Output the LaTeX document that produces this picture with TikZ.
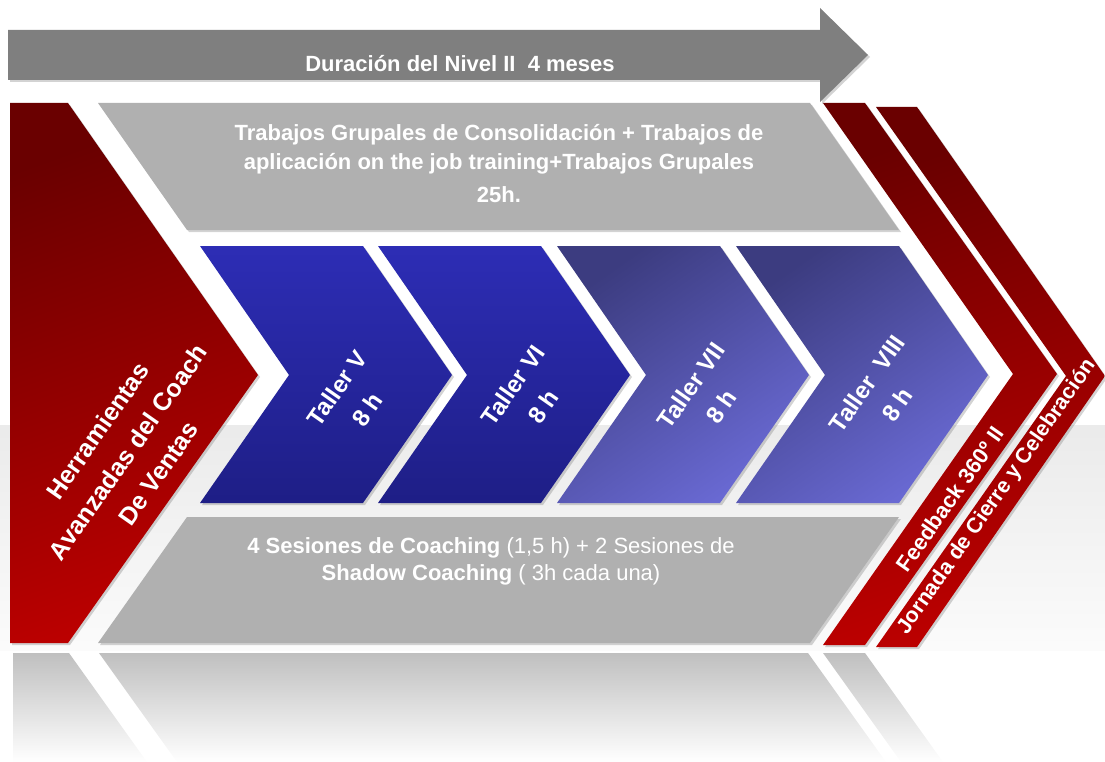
\documentclass[tikz,border=0pt]{standalone}
\usepackage{fontspec}
\setmainfont{Liberation Sans}
\usetikzlibrary{positioning,shadows}

\definecolor{redDark}{HTML}{6A0000}
\definecolor{redMid}{HTML}{A80000}
\definecolor{redLight}{HTML}{BC0000}
\definecolor{bandGray}{HTML}{B0B0B0}
\definecolor{arrowGray}{HTML}{7F7F7F}
\definecolor{blueTop}{HTML}{2D2DB5}
\definecolor{blueBot}{HTML}{1E1E86}
\definecolor{slateTop}{HTML}{3C3C80}
\definecolor{slateBot}{HTML}{6A6AD4}

\begin{document}
\begin{tikzpicture}[x=1pt,y=-1pt,
    shadowed/.style={drop shadow={shadow xshift=2pt,shadow yshift=-2pt,opacity=0.35}},
    redpart/.style={top color=redDark,middle color=redMid,bottom color=redLight,shading angle=20,shadowed},
    graypart/.style={fill=bandGray,shadowed},
    bluepart/.style={top color=blueTop,bottom color=blueBot,shadowed},
    slatepart/.style={top color=slateTop,bottom color=slateBot,shading angle=35,shadowed},
    mirror/.style={top color=gray!50,bottom color=white},
    txt/.style={text=white,align=center,inner sep=0pt},
    taller/.style={txt,rotate=55,font=\bfseries\fontsize{24}{37}\selectfont}]
    \useasboundingbox (0,0) rectangle (1105,762);
    % floor and reflections
    \shade[top color=gray!16,bottom color=gray!3] (0,425) rectangle (1105,650);
    \path[mirror] (13,653) -- (69,653) -- (147,762) -- (13,762) -- cycle;
    \path[mirror] (99,653) -- (808,653) -- (886,762) -- (177,762) -- cycle;
    \path[mirror] (823,653) -- (865,653) -- (943,762) -- (901,762) -- cycle;
    % duration arrow
    \path[fill=arrowGray,shadowed] (8,30) -- (820,30) -- (820,8) -- (868,55)
        -- (820,102) -- (820,80) -- (8,80) -- cycle;
    \node[txt,font=\bfseries\fontsize{22}{26}\selectfont] (dur) at (460,64) {Duración del Nivel II~~4 meses};
    % gray bands
    \path[graypart] (98,103) -- (810,103) -- (899,230) -- (187,230) -- cycle;
    \path[graypart] (187,517) -- (899,517) -- (810,643) -- (98,643) -- cycle;
    % red parts
    \path[redpart] (10,103) -- (68,103) -- (258,375) -- (68,643) -- (10,643) -- cycle;
    \path[redpart] (823,103) -- (865,103) -- (1057,374) -- (865,645) -- (823,645) -- (1013,374) -- cycle;
    \path[redpart] (876,107) -- (917,107) -- (1105,376) -- (917,647) -- (876,647) -- (1066,376) -- cycle;
    % talleres
    \path[bluepart] (200,246) -- (363,246) -- (452,375) -- (363,503) -- (200,503) -- (289,375) -- cycle;
    \path[bluepart] (378,246) -- (541,246) -- (630,375) -- (541,503) -- (378,503) -- (467,375) -- cycle;
    \path[slatepart] (557,246) -- (720,246) -- (809,375) -- (720,503) -- (557,503) -- (646,375) -- cycle;
    \path[slatepart] (736,246) -- (899,246) -- (988,375) -- (899,503) -- (736,503) -- (825,375) -- cycle;

    \node[txt,font=\bfseries\fontsize{22}{29}\selectfont] (trab) at (499,164)
        {Trabajos Grupales de Consolidación + Trabajos de\\aplicación on the job training+Trabajos Grupales\\[4pt]25h.};
    \node[txt,font=\fontsize{22}{27}\selectfont] (coach) at (491,561)
        {\textbf{4 Sesiones de Coaching} (1,5 h) + 2 Sesiones de\\\textbf{Shadow Coaching} ( 3h cada una)};
    \node[txt,rotate=55,font=\bfseries\fontsize{25}{37}\selectfont] (herr) at (128,452)
        {Herramientas\\Avanzadas del Coach\\De Ventas};
    \node[taller] (t5) at (352,399) {Taller V\\8 h};
    \node[taller] (t6) at (528,396) {Taller VI\\8 h};
    \node[taller] (t7) at (706,396) {Taller VII\\8 h};
    \node[taller] (t8) at (882,394) {Taller~~VIII\\8 h};
    \node[txt,rotate=55,font=\bfseries\fontsize{22}{25}\selectfont] (feed) at (950,499) {Feedback 360º II};
    \node[txt,rotate=55,font=\bfseries\fontsize{21.5}{25}\selectfont] (jorn) at (997,497) {Jornada de Cierre y Celebración};
\end{tikzpicture}
\end{document}
